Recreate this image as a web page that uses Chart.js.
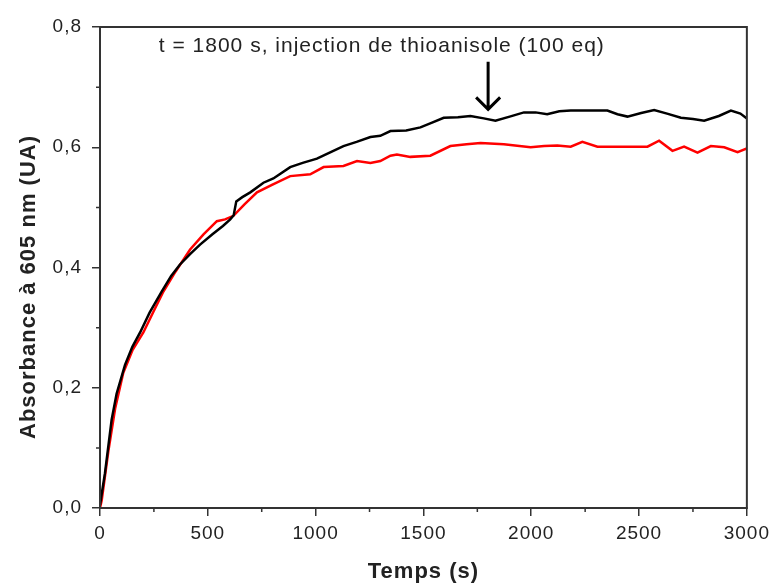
<!DOCTYPE html>
<html lang="fr">
<head>
  <meta charset="UTF-8">
  <title>Absorbance à 605 nm</title>
  <script src="https://cdn.jsdelivr.net/npm/chart.js"></script>
  <style>
    body { margin: 0; background: #fff; }
    #chart { display: block; }
  </style>
</head>
<body>
  <canvas id="chart" width="776" height="588"></canvas>
  <script>
    // black curve
    const timesBlack = [0, 23, 54, 77, 116, 150, 186, 230, 286, 330, 371, 420, 464, 520, 570, 604, 620, 632,
      660, 697, 758, 804, 882, 940, 1006, 1070, 1129, 1190, 1254, 1300, 1347, 1420, 1486, 1540, 1594, 1660,
      1718, 1780, 1834, 1900, 1966, 2020, 2074, 2130, 2183, 2270, 2353, 2400, 2446, 2510, 2570, 2630, 2694,
      2750, 2802, 2870, 2926, 2970, 3000];
    const absBlack = [0.005, 0.058, 0.147, 0.19, 0.238, 0.268, 0.292, 0.325, 0.36, 0.386, 0.405, 0.423, 0.438, 0.455, 0.469, 0.480, 0.487, 0.510,
      0.517, 0.525, 0.541, 0.548, 0.567, 0.574, 0.581, 0.592, 0.602, 0.609, 0.617, 0.619, 0.627, 0.628, 0.633, 0.641, 0.649, 0.650,
      0.652, 0.648, 0.644, 0.651, 0.658, 0.658, 0.655, 0.660, 0.661, 0.661, 0.661, 0.655, 0.651, 0.657, 0.662, 0.656, 0.649,
      0.647, 0.644, 0.652, 0.661, 0.656, 0.648];

    // red curve
    const timesRed = [0, 8, 39, 70, 108, 150, 201, 250, 294, 350, 418, 480, 542, 580, 619, 670, 728, 800, 882,
      975, 1037, 1129, 1192, 1254, 1300, 1347, 1377, 1439, 1532, 1625, 1700, 1765, 1873, 1997, 2060, 2121,
      2183, 2237, 2307, 2420, 2539, 2593, 2655, 2709, 2771, 2833, 2895, 2957, 3000];
    const absRed = [0.0, 0.013, 0.095, 0.165, 0.225, 0.262, 0.292, 0.328, 0.36, 0.393, 0.43, 0.455, 0.477, 0.480, 0.486, 0.505, 0.525, 0.538, 0.552,
      0.555, 0.567, 0.569, 0.577, 0.574, 0.577, 0.586, 0.588, 0.584, 0.586, 0.602, 0.605, 0.607, 0.605, 0.600, 0.602, 0.603,
      0.601, 0.609, 0.601, 0.601, 0.601, 0.611, 0.594, 0.601, 0.591, 0.602, 0.600, 0.592, 0.598];

    const xMinorTicks = [250, 750, 1250, 1750, 2250, 2750];
    const yMinorTicks = [0.1, 0.3, 0.5, 0.7];

    const injectionTime = 1800;
    const noteText = 't = 1800 s, injection de thioanisole (100 eq)';

    const toPoints = (xs, ys) => xs.map((x, i) => ({ x: x, y: ys[i] }));
    const FONT = "'Liberation Sans', Arial, sans-serif";
    const INK = '#222';

    // frame, minor ticks, y title, arrow + note
    const extras = {
      id: 'extras',
      beforeUpdate(chart) { chart.ctx.letterSpacing = '1px'; },
      beforeDraw(chart) { chart.ctx.letterSpacing = '1px'; },
      afterDraw(chart) {
        const { ctx, chartArea: a } = chart;
        const xs = chart.scales.x, ys = chart.scales.y;
        ctx.save();
        ctx.strokeStyle = '#333';
        ctx.lineWidth = 2;
        ctx.strokeRect(a.left, a.top, a.right - a.left, a.bottom - a.top);

        ctx.lineWidth = 1.5;
        ctx.beginPath();
        xMinorTicks.forEach(v => {
          const px = xs.getPixelForValue(v);
          ctx.moveTo(px, a.bottom); ctx.lineTo(px, a.bottom + 4);
        });
        yMinorTicks.forEach(v => {
          const py = ys.getPixelForValue(v);
          ctx.moveTo(a.left, py); ctx.lineTo(a.left - 4, py);
        });
        ctx.stroke();

        // y title
        ctx.fillStyle = INK;
        ctx.font = 'bold 22px ' + FONT;
        ctx.textAlign = 'center';
        ctx.textBaseline = 'middle';
        ctx.translate(29, 287);
        ctx.rotate(-Math.PI / 2);
        ctx.fillText('Absorbance à 605 nm (UA)', 0, 0);
        ctx.restore();

        // note and arrow
        ctx.save();
        ctx.letterSpacing = '1px';
        ctx.fillStyle = INK;
        ctx.font = '21px ' + FONT;
        ctx.textAlign = 'center';
        ctx.textBaseline = 'middle';
        ctx.fillText(noteText, xs.getPixelForValue(1307), ys.getPixelForValue(0.768));

        const ax = xs.getPixelForValue(injectionTime);
        const top = ys.getPixelForValue(0.742), tip = ys.getPixelForValue(0.663);
        ctx.strokeStyle = '#000';
        ctx.lineWidth = 3;
        ctx.beginPath();
        ctx.moveTo(ax, top); ctx.lineTo(ax, tip);
        ctx.moveTo(ax - 12, tip - 12); ctx.lineTo(ax, tip); ctx.lineTo(ax + 12, tip - 12);
        ctx.stroke();
        ctx.restore();
      }
    };

    new Chart(document.getElementById('chart'), {
      type: 'scatter',
      data: {
        datasets: [
          { label: 'noir', data: toPoints(timesBlack, absBlack), showLine: true, borderColor: '#000', borderWidth: 2.5, pointRadius: 0 },
          { label: 'rouge', data: toPoints(timesRed, absRed), showLine: true, borderColor: '#ff0000', borderWidth: 2.5, pointRadius: 0 }
        ]
      },
      options: {
        responsive: false,
        animation: false,
        layout: { padding: { top: 27, right: 29, left: 0, bottom: 0 } },
        plugins: { legend: { display: false }, tooltip: { enabled: false } },
        scales: {
          x: {
            type: 'linear', min: 0, max: 3000,
            afterFit: s => { s.height = 80; },
            ticks: { stepSize: 500, padding: 6, color: INK, font: { family: FONT, size: 19 },
              callback: v => String(v) },
            grid: { drawOnChartArea: false, tickLength: 8, color: '#333', lineWidth: 1.5 },
            border: { color: '#333', width: 2 },
            title: { display: true, text: 'Temps (s)', color: INK, font: { family: FONT, size: 22, weight: 'bold' }, padding: { top: 0, bottom: 3 } }
          },
          y: {
            min: 0, max: 0.8,
            afterFit: s => { s.width = 100; },
            ticks: { stepSize: 0.2, padding: 10, color: INK, font: { family: FONT, size: 19 },
              callback: v => v.toFixed(1).replace('.', ',') },
            grid: { drawOnChartArea: false, tickLength: 8, color: '#333', lineWidth: 1.5 },
            border: { color: '#333', width: 2 }
          }
        }
      },
      plugins: [extras]
    });
  </script>
</body>
</html>
